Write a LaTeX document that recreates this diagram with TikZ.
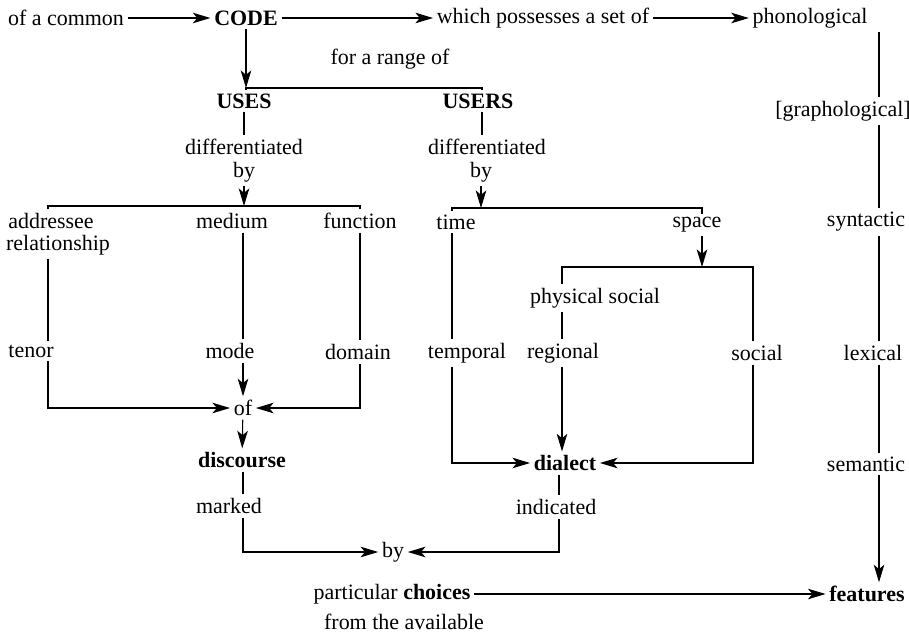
\documentclass[tikz,border=0pt]{standalone}
\usepackage{fontspec}
\setmainfont{Liberation Serif}
\usetikzlibrary{arrows.meta, positioning}

\begin{document}
\begin{tikzpicture}[
      x=0.02cm, y=-0.02cm,
      every node/.style={font=\fontsize{12.5}{14}\selectfont, inner sep=2pt},
      key/.style={font=\fontsize{12.5}{14}\selectfont\bfseries},
      ln/.style={line width=0.6pt},
      arr/.style={-{Stealth[length=10pt, width=6pt, inset=2.5pt]}, line width=0.6pt}
    ]
      \useasboundingbox (0,0) rectangle (909,636);

      % top row
      \node (common) at (66,18) {of a common};
      \node[key] (code) at (246,18) {CODE};
      \node (which) at (543,18) {which possesses a set of};
      \node (phon) at (810,18) {phonological};
      \node (range) at (390,59) {for a range of};
      \node[key] (uses) at (244,101) {USES};
      \node[key] (users) at (478,101) {USERS};

      % uses branch
      \node (diffA) at (244,147) {differentiated};
      \node (byA) at (244,172) {by};
      \node (addr) at (51,221) {addressee};
      \node (rel) at (58,245) {relationship};
      \node (medium) at (232,221) {medium};
      \node (function) at (360,221) {function};
      \node (tenor) at (31,351) {tenor};
      \node (mode) at (230,351) {mode};
      \node (domain) at (358,352) {domain};
      \node (of) at (243,408) {of};
      \node[key] (disc) at (242,460) {discourse};
      \node (marked) at (229,506) {marked};
      \node (byC) at (393,552) {by};

      % users branch
      \node (diffB) at (487,147) {differentiated};
      \node (byB) at (481,172) {by};
      \node (time) at (456,222) {time};
      \node (space) at (697,225) {space};
      \node (phys) at (595,298) {physical social};
      \node (temporal) at (467,353) {temporal};
      \node (regional) at (563,353) {regional};
      \node (social) at (757,353) {social};
      \node[key] (dialect) at (565,463) {dialect};
      \node (indicated) at (556,507) {indicated};

      % levels on the right
      \node (graph) at (843,111) {[graphological]};
      \node (syn) at (866,222) {syntactic};
      \node (lex) at (873,353) {lexical};
      \node (sem) at (866,464) {semantic};
      \node[key] (features) at (867,594) {features};
      \node (choices) at (392,594) {particular \textbf{choices}};
      \node (avail) at (404,622) {from the available};

      % line columns and bracket points
      \coordinate (xT) at (48,0);
      \coordinate (xM) at (243,0);
      \coordinate (xD) at (360,0);
      \coordinate (xU) at (482,0);
      \coordinate (xTe) at (452,0);
      \coordinate (xSp) at (702,0);
      \coordinate (xP) at (562,0);
      \coordinate (xS) at (753,0);
      \coordinate (xI) at (559,0);
      \coordinate (xR) at (879,0);
      \coordinate (bTop) at (246,88);
      \coordinate (bUses) at (244,206);
      \coordinate (bUsers) at (481,208);
      \coordinate (bSpace) at (702,267);

      \draw[arr] (common) -- (code);
      \draw[arr] (code) -- (which);
      \draw[arr] (which) -- (phon);
      \draw[arr] (code) -- (bTop);
      \draw[ln] (uses.north -| bTop) -- (bTop) -| (users.north -| xU);
      \draw[ln] (uses) -- (diffA);
      \draw[ln] (users.south -| xU) -- (diffB.north -| xU);

      % uses
      \draw[arr] (byA) -- (bUses);
      \draw[ln] (addr.north -| xT) |- (bUses) -| (function.north -| xD);
      \draw[ln] (rel.south -| xT) -- (tenor.north -| xT);
      \draw[arr] (tenor.south -| xT) |- (of);
      \draw[ln] (medium.south -| xM) -- (mode.north -| xM);
      \draw[arr] (mode.south -| xM) -- (of);
      \draw[ln] (function.south -| xD) -- (domain.north -| xD);
      \draw[arr] (domain.south -| xD) |- (of);
      \draw[arr] (of) -- (disc);
      \draw[ln] (disc.south -| xM) -- (marked.north -| xM);
      \draw[arr] (marked.south -| xM) |- (byC);

      % users
      \draw[arr] (byB) -- (bUsers);
      \draw[ln] (time.north -| xTe) |- (bUsers) -| (space.north -| xSp);
      \draw[ln] (time.south -| xTe) -- (temporal.north -| xTe);
      \draw[arr] (temporal.south -| xTe) |- (dialect);
      \draw[arr] (space.south -| xSp) -- (bSpace);
      \draw[ln] (phys.north -| xP) |- (bSpace) -| (social.north -| xS);
      \draw[ln] (phys.south -| xP) -- (regional.north -| xP);
      \draw[arr] (regional.south -| xP) -- (dialect.north -| xP);
      \draw[arr] (social.south -| xS) |- (dialect);
      \draw[ln] (dialect.south -| xI) -- (indicated.north -| xI);
      \draw[arr] (indicated.south -| xI) |- (byC);

      % levels
      \draw[ln] (phon.south -| xR) -- (graph.north -| xR);
      \draw[ln] (graph.south -| xR) -- (syn.north -| xR);
      \draw[ln] (syn.south -| xR) -- (lex.north -| xR);
      \draw[ln] (lex.south -| xR) -- (sem.north -| xR);
      \draw[arr] (sem.south -| xR) -- (features.north -| xR);
      \draw[arr] (choices) -- (features);
    \end{tikzpicture}
\end{document}
